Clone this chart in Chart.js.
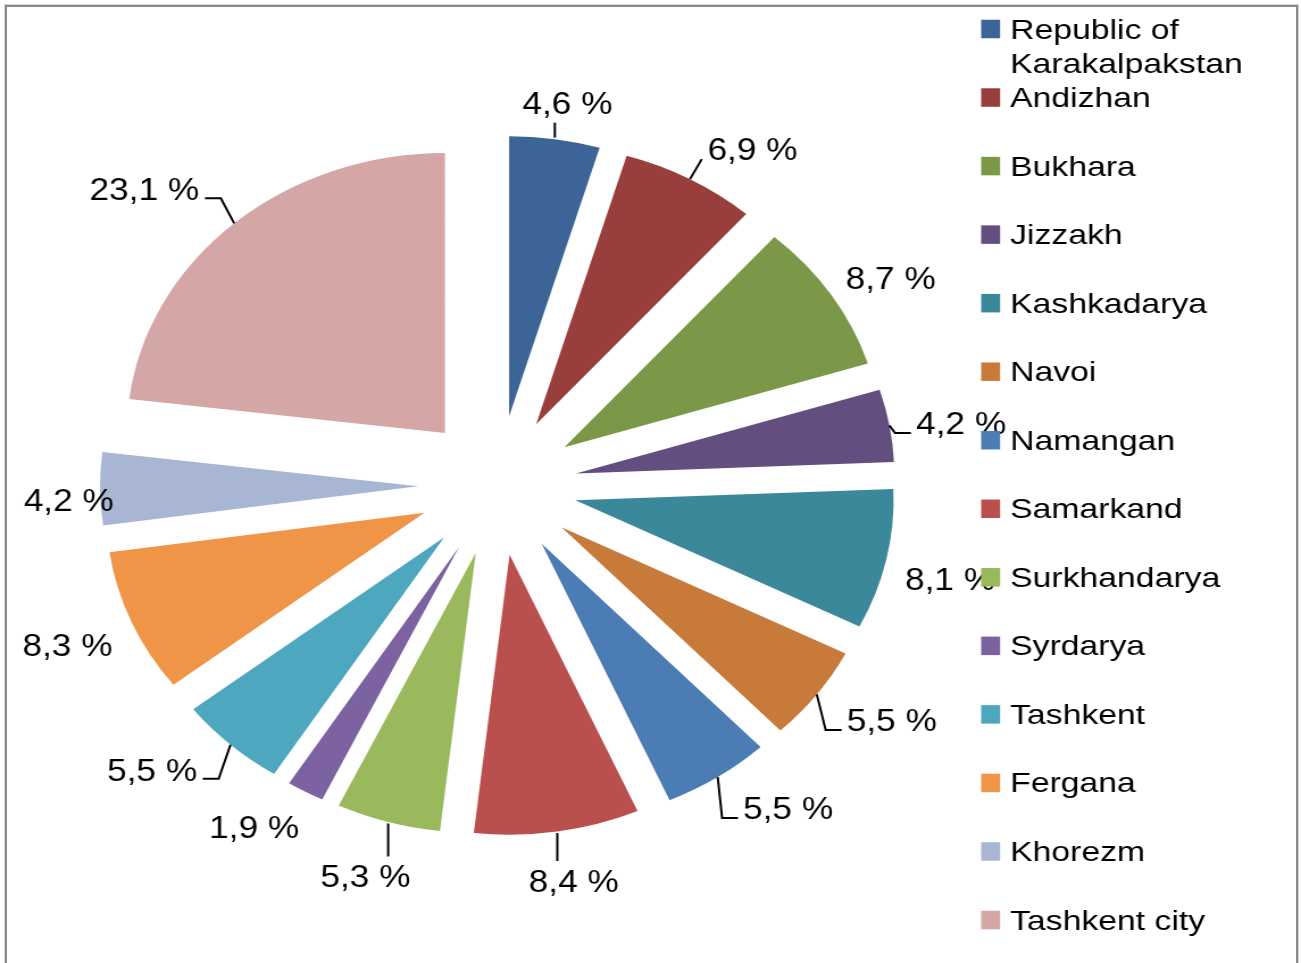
<!DOCTYPE html>
<html>
<head>
<meta charset="utf-8">
<script src="https://cdn.jsdelivr.net/npm/chart.js@4.4.1/dist/chart.umd.min.js"></script>
<style>
html,body{margin:0;padding:0;background:#fff;overflow:hidden;width:1301px;height:963px;}
#frame{position:absolute;left:5px;top:5px;width:1289px;height:1000px;border:2px solid #8a8a8a;border-bottom:none;box-shadow:0 0 0 1px #d4d4d4;}
#wrap{position:absolute;left:0;top:0;width:1145px;height:963px;transform:scaleX(1.13624);transform-origin:0 0;}
canvas{display:block;}
</style>
</head>
<body>
<div id="frame"></div>
<div id="wrap"><canvas id="c" width="1145" height="963"></canvas></div>
<script>
// ---- data ----
const regions = [
  'Republic of Karakalpakstan', 'Andizhan', 'Bukhara', 'Jizzakh', 'Kashkadarya',
  'Navoi', 'Namangan', 'Samarkand', 'Surkhandarya', 'Syrdarya',
  'Tashkent', 'Fergana', 'Khorezm', 'Tashkent city'
];
const shares = [4.6, 6.9, 8.7, 4.2, 8.1, 5.5, 5.5, 8.4, 5.3, 1.9, 5.5, 8.3, 4.2, 23.1];
const colors = [
  '#3C6496', '#983E3C', '#7B9848', '#644E80', '#3A8899', '#C87A3A',
  '#4B7CB4', '#B9504D', '#9AB95C', '#7C62A0', '#4DA7BE', '#F09448',
  '#A8B6D4', '#D4A6A6'
];

const FONT = '"Liberation Sans", Arial, Helvetica, sans-serif';

// explode every slice outward along its bisector
const explodePlugin = {
  id: 'explode',
  afterDatasetsUpdate(chart, args, opts) {
    const meta = chart.getDatasetMeta(0);
    meta.data.forEach(arc => {
      const mid = (arc.startAngle + arc.endAngle) / 2;
      arc.x += opts.distance * Math.cos(mid);
      arc.y += opts.distance * Math.sin(mid);
    });
  }
};

// data labels with leader lines (offsets relative to slice's outer bisector point)
const labelPlugin = {
  id: 'sliceLabels',
  afterDatasetsDraw(chart, args, opts) {
    const ctx = chart.ctx;
    const meta = chart.getDatasetMeta(0);
    const vals = chart.data.datasets[0].data;
    ctx.save();
    ctx.font = opts.fontSize + 'px ' + FONT;
    ctx.fillStyle = '#000';
    ctx.strokeStyle = '#000';
    ctx.lineWidth = 2;
    ctx.textAlign = 'center';
    ctx.textBaseline = 'alphabetic';
    meta.data.forEach((arc, i) => {
      const lay = opts.layout[i];
      const mid = (arc.startAngle + arc.endAngle) / 2;
      const ax = arc.x + arc.outerRadius * Math.cos(mid);
      const ay = arc.y + arc.outerRadius * Math.sin(mid);
      const cx = ax + lay.dx, cy = ay + lay.dy;
      const txt = vals[i].toFixed(1).replace('.', ',') + ' %';
      const w = ctx.measureText(txt).width;
      ctx.fillText(txt, cx, cy + 11);
      ctx.beginPath();
      if (lay.leader === 'v') {
        const s = lay.dy > 0 ? 1 : -1;
        ctx.moveTo(ax, ay + s * 1.5);
        ctx.lineTo(ax, cy - s * 20);
      } else if (lay.leader === 'd') {
        ctx.moveTo(ax, ay);
        ctx.lineTo(cx - w / 2 - 5, cy + 10.5);
      } else if (lay.leader === 'elbowL') {
        const ex = cx - w / 2 - 4.5, ey = cy + 10;
        ctx.moveTo(ex, ey);
        ctx.lineTo(ex - 14, ey);
        ctx.lineTo(ax, ay);
      } else if (lay.leader === 'elbowR') {
        const ex = cx + w / 2 + 5, ey = cy + 9;
        ctx.moveTo(ex, ey);
        ctx.lineTo(ex + 14, ey);
        ctx.lineTo(ax, ay);
      }
      ctx.stroke();
    });
    ctx.restore();
  }
};

// legend on the right with wrapped entries
const legendPlugin = {
  id: 'sideLegend',
  afterDraw(chart, args, o) {
    const ctx = chart.ctx;
    const names = chart.data.labels;
    const cols = chart.data.datasets[0].backgroundColor;
    ctx.save();
    ctx.font = o.fontSize + 'px ' + FONT;
    ctx.textAlign = 'left';
    ctx.textBaseline = 'alphabetic';
    names.forEach((name, i) => {
      const yc = o.top + i * o.step;
      ctx.fillStyle = cols[i];
      ctx.fillRect(o.boxX, yc - o.boxH / 2, o.boxW, o.boxH);
      // word wrap
      const words = name.split(' ');
      const lines = [];
      let cur = '';
      words.forEach(wd => {
        const t = cur ? cur + ' ' + wd : wd;
        if (cur && ctx.measureText(t).width * o.xScale > o.maxW) { lines.push(cur); cur = wd; }
        else cur = t;
      });
      lines.push(cur);
      ctx.fillStyle = '#000';
      lines.forEach((ln, k) => {
        ctx.save();
        ctx.translate(o.textX, yc + 9.5 + k * o.lineH);
        ctx.scale(o.xScale, 1);
        ctx.fillText(ln, 0, 0);
        ctx.restore();
      });
    });
    ctx.restore();
  }
};

new Chart(document.getElementById('c'), {
  type: 'pie',
  data: {
    labels: regions,
    datasets: [{
      data: shares,
      backgroundColor: colors,
      borderWidth: 0,
      clip: false
    }]
  },
  options: {
    responsive: false,
    animation: false,
    events: [],
    radius: 280,
    layout: { padding: { left: 0, right: 269, top: 8, bottom: 0 } },
    plugins: {
      legend: { display: false },
      tooltip: { enabled: false },
      explode: { distance: 70 },
      sliceLabels: {
        fontSize: 31,
        layout: [
          { dx: 11, dy: -36.5, leader: 'v' },
          { dx: 55, dy: -30.5, leader: 'd' },
          { dx: 52.5, dy: -16.5 },
          { dx: 63, dy: -2.5, leader: 'elbowL' },
          { dx: 56, dy: 19.5 },
          { dx: 66, dy: 25.5, leader: 'elbowL' },
          { dx: 62, dy: 31, leader: 'elbowL' },
          { dx: 14.5, dy: 49.5, leader: 'v' },
          { dx: -20, dy: 54.5, leader: 'v' },
          { dx: -45, dy: 35 },
          { dx: -69, dy: 25, leader: 'elbowR' },
          { dx: -56.5, dy: 22.5 },
          { dx: -27.5, dy: 11.5 },
          { dx: -79, dy: -34, leader: 'elbowR' }
        ]
      },
      sideLegend: {
        fontSize: 27.5, xScale: 1.08, top: 29, step: 68.54,
        boxX: 863.5, boxW: 16.7, boxH: 18.5, textX: 889, lineH: 34.5, maxW: 232
      }
    }
  },
  plugins: [explodePlugin, labelPlugin, legendPlugin]
});
</script>
</body>
</html>
